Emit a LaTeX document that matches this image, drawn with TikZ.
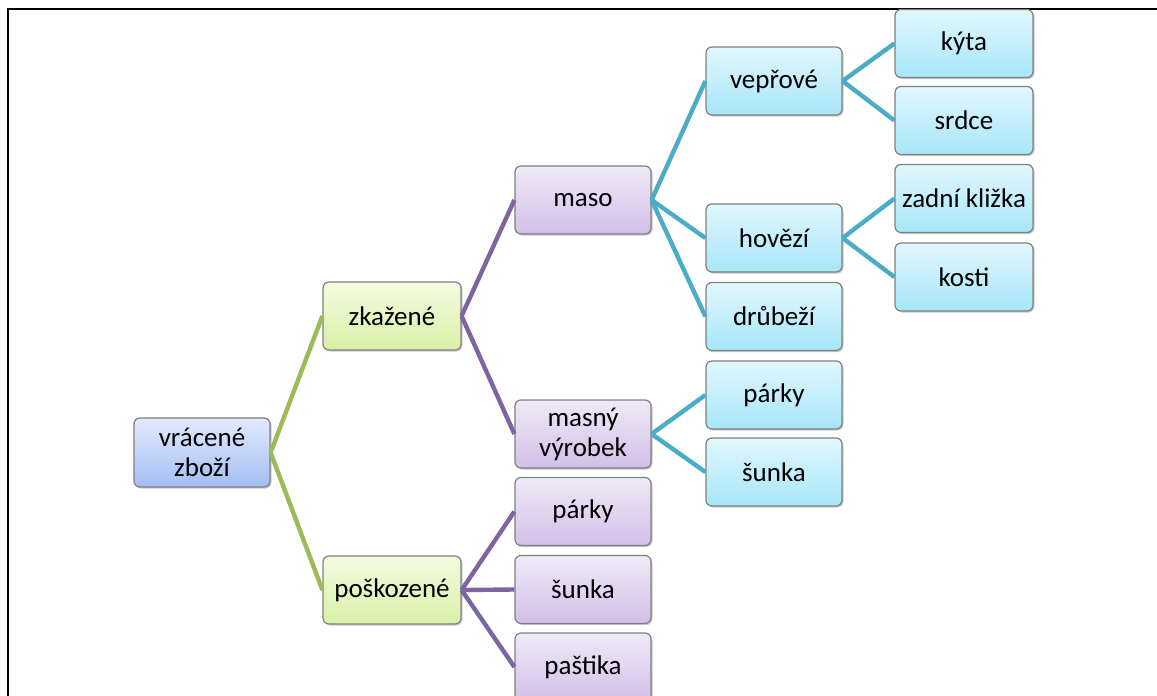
\documentclass[tikz,border=0pt]{standalone}
\usepackage{fontspec}
\setmainfont{Carlito}
\usetikzlibrary{shadows}
\begin{document}
\begin{tikzpicture}[x=1pt,y=-1pt,
  box/.style={draw=black!50, line width=1.2pt, rounded corners=6pt, inner sep=0pt,
    align=center, font=\fontsize{27}{30}\selectfont,
    drop shadow={shadow xshift=1.5pt, shadow yshift=-1.5pt, opacity=0.35, fill=black!60}},
  rootbox/.style={box, minimum width=136pt, minimum height=69pt, top color=rootT, bottom color=rootB},
  greenbox/.style={box, minimum width=138pt, minimum height=68pt, top color=grT, bottom color=grB},
  purplebox/.style={box, minimum width=136pt, minimum height=68pt, top color=puT, bottom color=puB},
  cyanbox/.style={box, minimum width=136pt, minimum height=68pt, top color=cyT, bottom color=cyB},
  leafbox/.style={cyanbox, minimum width=138pt},
  glink/.style={draw=linkG, line width=4.4pt},
  plink/.style={draw=linkP, line width=4.4pt},
  clink/.style={draw=linkC, line width=4.4pt}]
\definecolor{rootT}{HTML}{E2EAFE}
\definecolor{rootB}{HTML}{A4BEF4}
\definecolor{grT}{HTML}{F4FBE2}
\definecolor{grB}{HTML}{D9F0A6}
\definecolor{puT}{HTML}{F0EAF7}
\definecolor{puB}{HTML}{D2BFE8}
\definecolor{cyT}{HTML}{E2F7FD}
\definecolor{cyB}{HTML}{A6E6F9}
\definecolor{linkG}{HTML}{9BBB59}
\definecolor{linkP}{HTML}{8064A2}
\definecolor{linkC}{HTML}{4BACC6}
\useasboundingbox (0,0) rectangle (1157,696);
\clip (0,0) rectangle (1157,696);
\fill[white] (0,0) rectangle (1157,696);
\draw[line width=2pt, black] (7.5,696) -- (7.5,8.5) -- (1157,8.5);

\node[rootbox] (root) at (202,452.5) {vrácené\\zboží};
\node[greenbox] (zk) at (392,316) {zkažené};
\node[greenbox] (po) at (392,590) {poškozené};
\node[purplebox] (maso) at (583,200) {maso};
\node[purplebox] (mv) at (583,434) {masný\\výrobek};
\node[purplebox] (pa1) at (583,511.5) {párky};
\node[purplebox] (su1) at (583,589.5) {šunka};
\node[purplebox] (pas) at (583,667) {paštika};
\node[cyanbox] (vep) at (774,81) {vepřové};
\node[cyanbox] (hov) at (774,238) {hovězí};
\node[cyanbox] (dru) at (774,316.5) {drůbeží};
\node[cyanbox] (pa2) at (774,395) {párky};
\node[cyanbox] (su2) at (774,472) {šunka};
\node[leafbox] (kyt) at (964,43.5) {kýta};
\node[leafbox] (srd) at (964,120.5) {srdce};
\node[leafbox] (zad) at (964,198.5) {zadní kližka};
\node[leafbox] (kos) at (964,277) {kosti};

\draw[glink] (root.east) -- (zk.west);
\draw[glink] (root.east) -- (po.west);
\draw[plink] (zk.east) -- (maso.west);
\draw[plink] (zk.east) -- (mv.west);
\draw[plink] (po.east) -- (pa1.west);
\draw[plink] (po.east) -- (su1.west);
\draw[plink] (po.east) -- (pas.west);
\draw[clink] (maso.east) -- (vep.west);
\draw[clink] (maso.east) -- (hov.west);
\draw[clink] (maso.east) -- (dru.west);
\draw[clink] (mv.east) -- (pa2.west);
\draw[clink] (mv.east) -- (su2.west);
\draw[clink] (vep.east) -- (kyt.west);
\draw[clink] (vep.east) -- (srd.west);
\draw[clink] (hov.east) -- (zad.west);
\draw[clink] (hov.east) -- (kos.west);
\end{tikzpicture}
\end{document}
